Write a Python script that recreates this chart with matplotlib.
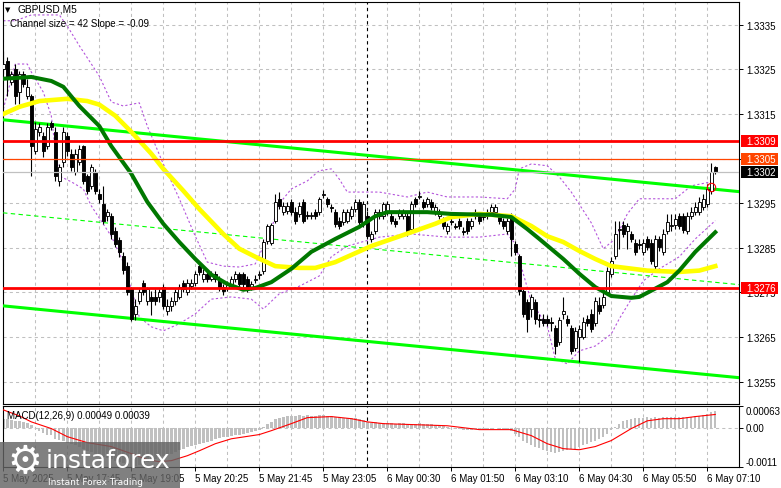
import numpy as np
import matplotlib
matplotlib.use("Agg")
import matplotlib.pyplot as plt
from matplotlib.patches import Rectangle

# GBPUSD M5 candles (bar 0 = left edge, bar 178 = last)
opens = [1.33251, 1.33269, 1.33222, 1.33251, 1.33199, 1.33240, 1.33190, 1.33190, 1.33068, 1.33110,
         1.33101, 1.33078, 1.33130, 1.33110, 1.33000, 1.33042, 1.33101, 1.33061, 1.33020, 1.33042,
         1.33078, 1.33011, 1.32988, 1.33020, 1.32971, 1.32949, 1.32921, 1.32921, 1.32888, 1.32868,
         1.32832, 1.32809, 1.32758, 1.32702, 1.32731, 1.32771, 1.32731, 1.32740, 1.32740, 1.32740,
         1.32762, 1.32708, 1.32719, 1.32731, 1.32740, 1.32771, 1.32751, 1.32764, 1.32771, 1.32809,
         1.32780, 1.32792, 1.32780, 1.32792, 1.32780, 1.32762, 1.32760, 1.32769, 1.32780, 1.32792,
         1.32792, 1.32780, 1.32762, 1.32778, 1.32790, 1.32799, 1.32866, 1.32861, 1.32911, 1.32960,
         1.32930, 1.32933, 1.32953, 1.32930, 1.32926, 1.32953, 1.32924, 1.32921, 1.32930, 1.32930,
         1.32969, 1.32960, 1.32942, 1.32930, 1.32911, 1.32908, 1.32911, 1.32921, 1.32937, 1.32953,
         1.32904, 1.32921, 1.32870, 1.32888, 1.32921, 1.32921, 1.32930, 1.32921, 1.32911, 1.32921,
         1.32921, 1.32921, 1.32892, 1.32960, 1.32964, 1.32953, 1.32949, 1.32953, 1.32930, 1.32921,
         1.32911, 1.32888, 1.32911, 1.32899, 1.32911, 1.32888, 1.32911, 1.32899, 1.32921, 1.32921,
         1.32921, 1.32921, 1.32930, 1.32930, 1.32921, 1.32911, 1.32888, 1.32921, 1.32859, 1.32832,
         1.32754, 1.32728, 1.32713, 1.32728, 1.32691, 1.32691, 1.32691, 1.32684, 1.32671, 1.32639,
         1.32702, 1.32691, 1.32671, 1.32626, 1.32650, 1.32650, 1.32691, 1.32702, 1.32682, 1.32722,
         1.32722, 1.32751, 1.32792, 1.32832, 1.32890, 1.32902, 1.32888, 1.32881, 1.32861, 1.32859,
         1.32841, 1.32870, 1.32861, 1.32809, 1.32870, 1.32841, 1.32888, 1.32899, 1.32902, 1.32921,
         1.32921, 1.32888, 1.32921, 1.32930, 1.32930, 1.32942, 1.32949, 1.32978, 1.33031]
highs = [1.33292, 1.33278, 1.33247, 1.33262, 1.33247, 1.33247, 1.33229, 1.33195, 1.33132, 1.33130,
         1.33110, 1.33130, 1.33135, 1.33121, 1.33038, 1.33121, 1.33110, 1.33072, 1.33072, 1.33081,
         1.33081, 1.33016, 1.33038, 1.33027, 1.32982, 1.32988, 1.32937, 1.32928, 1.32897, 1.32874,
         1.32841, 1.32818, 1.32762, 1.32735, 1.32758, 1.32778, 1.32762, 1.32754, 1.32758, 1.32758,
         1.32769, 1.32735, 1.32740, 1.32758, 1.32769, 1.32778, 1.32780, 1.32780, 1.32799, 1.32818,
         1.32803, 1.32796, 1.32799, 1.32799, 1.32787, 1.32769, 1.32776, 1.32787, 1.32799, 1.32796,
         1.32796, 1.32787, 1.32776, 1.32790, 1.32799, 1.32870, 1.32904, 1.32906, 1.32971, 1.32975,
         1.32953, 1.32953, 1.32960, 1.32942, 1.32953, 1.32960, 1.32933, 1.32930, 1.32937, 1.32964,
         1.32980, 1.32964, 1.32949, 1.32937, 1.32919, 1.32937, 1.32937, 1.32944, 1.32960, 1.32960,
         1.32955, 1.32933, 1.32888, 1.32937, 1.32937, 1.32953, 1.32955, 1.32928, 1.32917, 1.32937,
         1.32937, 1.32928, 1.32955, 1.32964, 1.32978, 1.32960, 1.32964, 1.32960, 1.32949, 1.32937,
         1.32919, 1.32906, 1.32917, 1.32906, 1.32917, 1.32897, 1.32917, 1.32917, 1.32937, 1.32928,
         1.32930, 1.32937, 1.32949, 1.32949, 1.32928, 1.32917, 1.32917, 1.32928, 1.32866, 1.32837,
         1.32758, 1.32735, 1.32747, 1.32735, 1.32702, 1.32702, 1.32700, 1.32695, 1.32677, 1.32695,
         1.32740, 1.32700, 1.32677, 1.32673, 1.32677, 1.32695, 1.32700, 1.32713, 1.32740, 1.32740,
         1.32758, 1.32807, 1.32830, 1.32911, 1.32911, 1.32911, 1.32906, 1.32888, 1.32870, 1.32870,
         1.32870, 1.32876, 1.32870, 1.32879, 1.32876, 1.32892, 1.32926, 1.32926, 1.32926, 1.32928,
         1.32928, 1.32930, 1.32942, 1.32953, 1.32964, 1.32971, 1.32993, 1.33040, 1.33034]
lows = [1.33240, 1.33190, 1.33216, 1.33173, 1.33173, 1.33211, 1.33184, 1.33011, 1.33061, 1.33101,
        1.33054, 1.33072, 1.33115, 1.33000, 1.32988, 1.33031, 1.33056, 1.33023, 1.33014, 1.33036,
        1.32993, 1.32971, 1.32982, 1.32971, 1.32951, 1.32904, 1.32911, 1.32870, 1.32852, 1.32830,
        1.32792, 1.32745, 1.32687, 1.32689, 1.32724, 1.32745, 1.32722, 1.32700, 1.32722, 1.32728,
        1.32713, 1.32700, 1.32708, 1.32722, 1.32735, 1.32751, 1.32745, 1.32758, 1.32764, 1.32790,
        1.32773, 1.32773, 1.32776, 1.32773, 1.32754, 1.32745, 1.32754, 1.32762, 1.32773, 1.32762,
        1.32762, 1.32751, 1.32756, 1.32771, 1.32780, 1.32792, 1.32859, 1.32857, 1.32906, 1.32937,
        1.32924, 1.32926, 1.32924, 1.32904, 1.32919, 1.32906, 1.32915, 1.32915, 1.32915, 1.32924,
        1.32962, 1.32942, 1.32930, 1.32897, 1.32892, 1.32902, 1.32906, 1.32915, 1.32930, 1.32902,
        1.32897, 1.32870, 1.32863, 1.32881, 1.32915, 1.32915, 1.32924, 1.32904, 1.32897, 1.32915,
        1.32915, 1.32876, 1.32885, 1.32942, 1.32960, 1.32937, 1.32942, 1.32935, 1.32924, 1.32915,
        1.32892, 1.32881, 1.32902, 1.32892, 1.32892, 1.32879, 1.32881, 1.32892, 1.32915, 1.32904,
        1.32913, 1.32915, 1.32924, 1.32924, 1.32904, 1.32892, 1.32881, 1.32832, 1.32835, 1.32745,
        1.32695, 1.32661, 1.32695, 1.32680, 1.32673, 1.32675, 1.32675, 1.32664, 1.32612, 1.32632,
        1.32691, 1.32675, 1.32612, 1.32619, 1.32594, 1.32646, 1.32675, 1.32661, 1.32675, 1.32702,
        1.32715, 1.32745, 1.32785, 1.32825, 1.32848, 1.32874, 1.32848, 1.32863, 1.32835, 1.32848,
        1.32835, 1.32846, 1.32814, 1.32803, 1.32843, 1.32835, 1.32881, 1.32888, 1.32892, 1.32892,
        1.32883, 1.32881, 1.32915, 1.32924, 1.32924, 1.32935, 1.32942, 1.32971, 1.33016]
closes = [1.33262, 1.33229, 1.33240, 1.33190, 1.33240, 1.33218, 1.33211, 1.33078, 1.33117, 1.33121,
          1.33068, 1.33121, 1.33121, 1.33011, 1.33031, 1.33110, 1.33068, 1.33031, 1.33061, 1.33072,
          1.33000, 1.32978, 1.33031, 1.32978, 1.32960, 1.32911, 1.32930, 1.32881, 1.32859, 1.32841,
          1.32801, 1.32751, 1.32691, 1.32719, 1.32751, 1.32751, 1.32758, 1.32731, 1.32731, 1.32751,
          1.32719, 1.32719, 1.32731, 1.32751, 1.32762, 1.32758, 1.32771, 1.32771, 1.32792, 1.32796,
          1.32792, 1.32780, 1.32792, 1.32780, 1.32762, 1.32754, 1.32769, 1.32780, 1.32792, 1.32769,
          1.32769, 1.32758, 1.32769, 1.32780, 1.32792, 1.32863, 1.32899, 1.32902, 1.32953, 1.32944,
          1.32944, 1.32944, 1.32930, 1.32911, 1.32944, 1.32911, 1.32921, 1.32924, 1.32921, 1.32960,
          1.32971, 1.32949, 1.32940, 1.32904, 1.32899, 1.32930, 1.32930, 1.32937, 1.32953, 1.32908,
          1.32949, 1.32876, 1.32881, 1.32930, 1.32930, 1.32949, 1.32949, 1.32911, 1.32904, 1.32930,
          1.32930, 1.32881, 1.32949, 1.32949, 1.32966, 1.32942, 1.32960, 1.32942, 1.32942, 1.32930,
          1.32899, 1.32899, 1.32908, 1.32897, 1.32899, 1.32885, 1.32888, 1.32911, 1.32930, 1.32911,
          1.32919, 1.32930, 1.32942, 1.32942, 1.32911, 1.32899, 1.32911, 1.32870, 1.32841, 1.32754,
          1.32702, 1.32691, 1.32740, 1.32691, 1.32689, 1.32682, 1.32682, 1.32682, 1.32630, 1.32689,
          1.32708, 1.32682, 1.32619, 1.32664, 1.32668, 1.32684, 1.32682, 1.32668, 1.32731, 1.32708,
          1.32740, 1.32799, 1.32821, 1.32881, 1.32892, 1.32881, 1.32899, 1.32870, 1.32841, 1.32857,
          1.32861, 1.32852, 1.32821, 1.32870, 1.32852, 1.32881, 1.32908, 1.32902, 1.32915, 1.32899,
          1.32890, 1.32921, 1.32930, 1.32942, 1.32953, 1.32960, 1.32982, 1.33020, 1.33020]

# moving averages (sampled along the drawn lines)
green_bars = [0, 7, 12, 15, 19, 24, 27, 32, 36, 40, 44, 48, 52, 56, 60, 63, 67, 72, 77, 83,
              89, 93, 96, 106, 112, 122, 127, 131, 134, 140, 144, 148, 152, 157, 159, 162, 166, 169, 173, 178]
green_ma = [1.33229, 1.33233, 1.33224, 1.33211, 1.33168, 1.33123, 1.33078, 1.33016, 1.32953, 1.32904,
            1.32863, 1.32825, 1.32790, 1.32769, 1.32756, 1.32760, 1.32773, 1.32803, 1.32841, 1.32870,
            1.32897, 1.32921, 1.32930, 1.32930, 1.32926, 1.32924, 1.32919, 1.32892, 1.32870, 1.32825,
            1.32792, 1.32762, 1.32742, 1.32738, 1.32740, 1.32754, 1.32773, 1.32799, 1.32841, 1.32885]
yellow_bars = [0, 4, 9, 16, 21, 24, 28, 32, 37, 40, 45, 49, 55, 59, 63, 68, 74, 78, 83, 92,
               102, 108, 112, 119, 127, 132, 136, 140, 144, 148, 152, 161, 169, 174, 178]
yellow_ma = [1.33150, 1.33166, 1.33179, 1.33184, 1.33179, 1.33171, 1.33146, 1.33110, 1.33061, 1.33027,
             1.32978, 1.32937, 1.32881, 1.32848, 1.32830, 1.32809, 1.32805, 1.32805, 1.32818, 1.32854,
             1.32885, 1.32904, 1.32919, 1.32926, 1.32921, 1.32899, 1.32876, 1.32863, 1.32843, 1.32825,
             1.32809, 1.32799, 1.32796, 1.32799, 1.32809]

# bands (purple dotted)
band_up_bars = [0, 3, 7, 14, 16, 19, 24, 27, 30, 34, 36, 40, 44, 48, 51, 55, 59, 63, 67, 69,
                72, 76, 79, 82, 84, 86, 94, 101, 106, 111, 119, 126, 128, 129, 132, 136, 139, 142,
                147, 150, 153, 156, 159, 164, 168, 172, 177]
band_up = [1.33359, 1.33359, 1.33372, 1.33372, 1.33347, 1.33303, 1.33235, 1.33177, 1.33168, 1.33175,
           1.33123, 1.33038, 1.32960, 1.32876, 1.32818, 1.32809, 1.32807, 1.32814, 1.32892, 1.32949,
           1.32982, 1.33000, 1.33023, 1.33027, 1.33004, 1.32975, 1.32975, 1.32964, 1.32975, 1.32964,
           1.32964, 1.32960, 1.32982, 1.33027, 1.33038, 1.33034, 1.33009, 1.32975, 1.32906, 1.32848,
           1.32870, 1.32926, 1.32960, 1.32960, 1.32960, 1.32989, 1.32998]
band_lo_bars = [0, 2, 3, 6, 7, 10, 12, 13, 14, 17, 20, 22, 27, 30, 32, 34, 37, 40, 44, 48,
                52, 57, 62, 65, 69, 74, 79, 82, 86, 94, 102, 111, 119, 126, 128, 130, 132, 136,
                138, 141, 144, 148, 152, 154, 157, 160, 164, 169, 173, 178]
band_lo = [1.33161, 1.33229, 1.33262, 1.33262, 1.33244, 1.33199, 1.33146, 1.33072, 1.33011, 1.32998,
           1.32982, 1.32944, 1.32876, 1.32818, 1.32758, 1.32695, 1.32673, 1.32664, 1.32680, 1.32702,
           1.32735, 1.32740, 1.32735, 1.32713, 1.32747, 1.32764, 1.32787, 1.32830, 1.32854, 1.32874,
           1.32881, 1.32874, 1.32874, 1.32881, 1.32859, 1.32792, 1.32729, 1.32675, 1.32601, 1.32590,
           1.32619, 1.32630, 1.32657, 1.32691, 1.32735, 1.32776, 1.32803, 1.32830, 1.32870, 1.32911]

# regression channel (ends at the chart edges)
chan_bars = [-0.075, 183.925]
chan_up = [1.33137, 1.32976]
chan_lo = [1.32720, 1.32559]

# horizontal levels
level_res = 1.3309
level_sup = 1.3276
level_mid = 1.3305
bid = 1.3302
breakout = (177, 1.32986)

# MACD(12,26,9)
macd_hist = [0.00026, 0.00026, 0.00022, 0.00020, 0.00020, 0.00018, 0.00014, 0.00010,
             0.00002, -0.00008, -0.00014, -0.00018, -0.00020, -0.00030, -0.00034, -0.00036,
             -0.00042, -0.00046, -0.00048, -0.00052, -0.00060, -0.00066, -0.00068, -0.00072,
             -0.00076, -0.00082, -0.00084, -0.00088, -0.00092, -0.00096, -0.00100, -0.00104,
             -0.00110, -0.00108, -0.00104, -0.00100, -0.00096, -0.00092, -0.00088, -0.00084,
             -0.00080, -0.00076, -0.00072, -0.00068, -0.00063, -0.00058, -0.00054, -0.00050,
             -0.00047, -0.00044, -0.00041, -0.00038, -0.00036, -0.00032, -0.00029, -0.00026,
             -0.00024, -0.00022, -0.00019, -0.00018, -0.00016, -0.00013, -0.00012, -0.00009,
             -0.00005, 0.00004, 0.00012, 0.00018, 0.00026, 0.00030, 0.00032, 0.00034,
             0.00036, 0.00036, 0.00037, 0.00036, 0.00037, 0.00036, 0.00036, 0.00038,
             0.00038, 0.00036, 0.00035, 0.00033, 0.00031, 0.00030, 0.00030, 0.00029,
             0.00028, 0.00026, 0.00023, 0.00019, 0.00016, 0.00017, 0.00016, 0.00015,
             0.00016, 0.00015, 0.00013, 0.00014, 0.00014, 0.00011, 0.00012, 0.00013,
             0.00014, 0.00012, 0.00012, 0.00011, 0.00010, 0.00008, 0.00005, 0.00003,
             0.00001, -0.00002, -0.00003, -0.00005, -0.00006, -0.00005, -0.00003, -0.00003,
             -0.00003, -0.00002, -0.00001, 0.00000, -0.00001, -0.00002, -0.00002, -0.00008,
             -0.00016, -0.00026, -0.00035, -0.00043, -0.00048, -0.00053, -0.00057, -0.00061,
             -0.00064, -0.00067, -0.00070, -0.00068, -0.00065, -0.00062, -0.00060, -0.00058,
             -0.00052, -0.00048, -0.00044, -0.00040, -0.00035, -0.00030, -0.00024, -0.00016,
             -0.00006, 0.00004, 0.00013, 0.00020, 0.00024, 0.00027, 0.00029, 0.00029,
             0.00030, 0.00031, 0.00030, 0.00031, 0.00030, 0.00031, 0.00032, 0.00031,
             0.00031, 0.00032, 0.00031, 0.00031, 0.00032, 0.00035, 0.00036, 0.00038,
             0.00041, 0.00045, 0.00049]
signal_bars = [0, 4, 7, 12, 16, 21, 27, 32, 36, 39, 42, 46, 49, 53, 57, 64, 67, 72, 76, 82,
               87, 91, 95, 111, 119, 127, 132, 136, 140, 144, 148, 152, 157, 161, 165, 169, 173, 178]
signal = [0.00052, 0.00035, 0.00018, -0.00001, -0.00024, -0.00041, -0.00052, -0.00072, -0.00089, -0.00095,
          -0.00092, -0.00078, -0.00064, -0.00044, -0.00030, -0.00018, -0.00007, 0.00013, 0.00030, 0.00033,
          0.00027, 0.00018, 0.00013, 0.00007, -0.00004, -0.00004, -0.00021, -0.00044, -0.00058, -0.00061,
          -0.00052, -0.00035, -0.00001, 0.00021, 0.00027, 0.00027, 0.00033, 0.00039]

price_ticks = [1.3255, 1.3265, 1.3275, 1.3285, 1.3295, 1.3305, 1.3315, 1.3325, 1.3335]
time_bars = [0, 16, 32, 48, 64, 80, 96, 112, 128, 144, 160, 176]
time_labels = ["5 May 2025", "5 May 17:45", "5 May 19:05", "5 May 20:25", "5 May 21:45",
               "5 May 23:05", "6 May 00:30", "6 May 01:50", "6 May 03:10", "6 May 04:30",
               "6 May 05:50", "6 May 07:10"]
day_sep = 91

W, H = 781, 489
GRID = "#c0c0c0"


def fx(px):
    return px / W


def fy(py):
    return 1 - py / H


plt.rcParams['font.family'] = ['Liberation Sans', 'DejaVu Sans']
fig = plt.figure(figsize=(W / 100, H / 100), dpi=100)
ax = fig.add_axes([fx(3), fy(405), 736 / W, 402 / H])
am = fig.add_axes([fx(3), fy(468), 736 / W, 61 / H])

for a in (ax, am):
    a.set_xlim(-0.075, 183.925)
    for s in a.spines.values():
        s.set_color("black")
        s.set_linewidth(0.8)
    for b in range(0, 184, 8):
        a.axvline(b, color=GRID, lw=0.75, ls=(0, (3, 3)), zorder=0.5)
    a.axvline(day_sep, color="black", lw=0.8, ls=(0, (3, 3)), zorder=1)

# ---- main pane ----
ax.set_ylim(1.32500, 1.33401)
for p in price_ticks:
    ax.axhline(p, color=GRID, lw=0.75, ls=(0, (3, 3)), zorder=0.5)

ax.plot(band_up_bars, band_up, color="#b455dc", lw=0.8, ls=(0, (2, 2)), zorder=2)
ax.plot(band_lo_bars, band_lo, color="#b455dc", lw=0.8, ls=(0, (2, 2)), zorder=2)

chan_mid = [(u + l) / 2 for u, l in zip(chan_up, chan_lo)]
ax.plot(chan_bars, chan_up, color="#00ff00", lw=2.2, zorder=3)
ax.plot(chan_bars, chan_lo, color="#00ff00", lw=2.2, zorder=3)
ax.plot(chan_bars, chan_mid, color="#00ff00", lw=0.8, ls=(0, (4, 3)), zorder=3)

o = np.array(opens)
c = np.array(closes)
x = np.arange(len(c))
up = c >= o
ax.vlines(x, lows, highs, color="black", lw=0.8, zorder=4)
ax.bar(x, np.maximum(np.abs(c - o), 0.000004), bottom=np.minimum(o, c), width=0.62,
       color=np.where(up, "white", "black"), edgecolor="black", linewidth=0.65, zorder=4.5)

ax.plot(yellow_bars, yellow_ma, color="#ffff00", lw=3.3, zorder=5, solid_joinstyle="round")
ax.plot(green_bars, green_ma, color="#007800", lw=2.9, zorder=5.2, solid_joinstyle="round")

ax.axhline(level_res, color="red", lw=2.0, zorder=6)
ax.axhline(level_sup, color="red", lw=2.0, zorder=6)
ax.axhline(level_mid, color="#ff4500", lw=0.9, zorder=6)
ax.axhline(bid, color="#c0c0c0", lw=0.9, zorder=6)
ax.plot(*breakout, "o", mfc="none", mec="red", ms=6, mew=0.8, zorder=7)

ax.set_xticks([])
ax.yaxis.tick_right()
ax.set_yticks(price_ticks)
# 1.3305 sits fully under the coloured price tags, so its label is not visible
ax.set_yticklabels(["" if abs(p - level_mid) < 1e-9 else f"{p:.4f}" for p in price_ticks])
ax.tick_params(axis="y", length=3, width=0.7, pad=2.5, labelsize=7, colors="black")

tr = ax.get_yaxis_transform()
for lvl, txt, bg in [(level_res, "1.3309", "#ff0000"), (level_mid, "1.3305", "#ff4500"),
                     (bid, "1.3302", "#000000"), (level_sup, "1.3276", "#ff0000")]:
    ax.add_patch(Rectangle((1.0027, lvl - 0.000135), 0.0503, 0.00027, transform=tr,
                           fc=bg, ec="none", clip_on=False, zorder=10))
    ax.text(1.0095, lvl, txt, transform=tr, ha="left", va="center", color="white",
            fontsize=7, zorder=11, clip_on=False)

# ---- MACD pane ----
am.set_ylim(-0.0011, 0.00063)
am.axhline(0, color=GRID, lw=0.75, ls=(0, (3, 3)), zorder=0.5)
am.bar(x, macd_hist, width=0.6, color="#c0c0c0", zorder=2)
am.plot(signal_bars, signal, color="red", lw=0.8, zorder=3)

am.yaxis.tick_right()
am.set_yticks([0.00063, 0.0, -0.0011])
am.set_yticklabels([])
am.tick_params(axis="y", length=3, width=0.7)
trm = am.get_yaxis_transform()
am.text(1.0095, 0.00063, "0.00063", transform=trm, va="top", fontsize=7, clip_on=False)
am.text(1.0095, 0.0, "0.00", transform=trm, va="center", fontsize=7, clip_on=False)
am.text(1.0095, -0.0011, "-0.0011", transform=trm, va="bottom", fontsize=7, clip_on=False)

am.set_xticks(time_bars)
am.set_xticklabels(time_labels, ha="left")
am.tick_params(axis="x", length=3, width=0.7, pad=1.5, labelsize=7)

# ---- header texts ----
fig.text(fx(5), fy(10), "\u25bc", fontsize=5, family="DejaVu Sans", va="center")
fig.text(fx(18), fy(10), "GBPUSD,M5", fontsize=7.3, va="center")
fig.text(fx(10), fy(24), "Channel size = 42 Slope = -0.09", fontsize=7, va="center")
fig.text(fx(7), fy(416), "MACD(12,26,9) 0.00049 0.00039", fontsize=7, va="center")

# ---- watermark ----
fig.add_artist(Rectangle((0, 0), fx(180), 46 / H, transform=fig.transFigure,
                         fc="#646464", ec="none", alpha=0.82, zorder=20))
fig.text(fx(25), fy(462), "\u2699", fontsize=28, family="DejaVu Sans", color="white",
         ha="center", va="center", zorder=21)
fig.text(fx(46), fy(461), "instaforex", fontsize=18, family="DejaVu Sans", color="white",
         va="center", zorder=21)
fig.text(fx(48), fy(483), "Instant Forex Trading", fontsize=6.5, family="DejaVu Sans",
         color="white", va="center", zorder=21)

fig.savefig("out.png", dpi=100)
